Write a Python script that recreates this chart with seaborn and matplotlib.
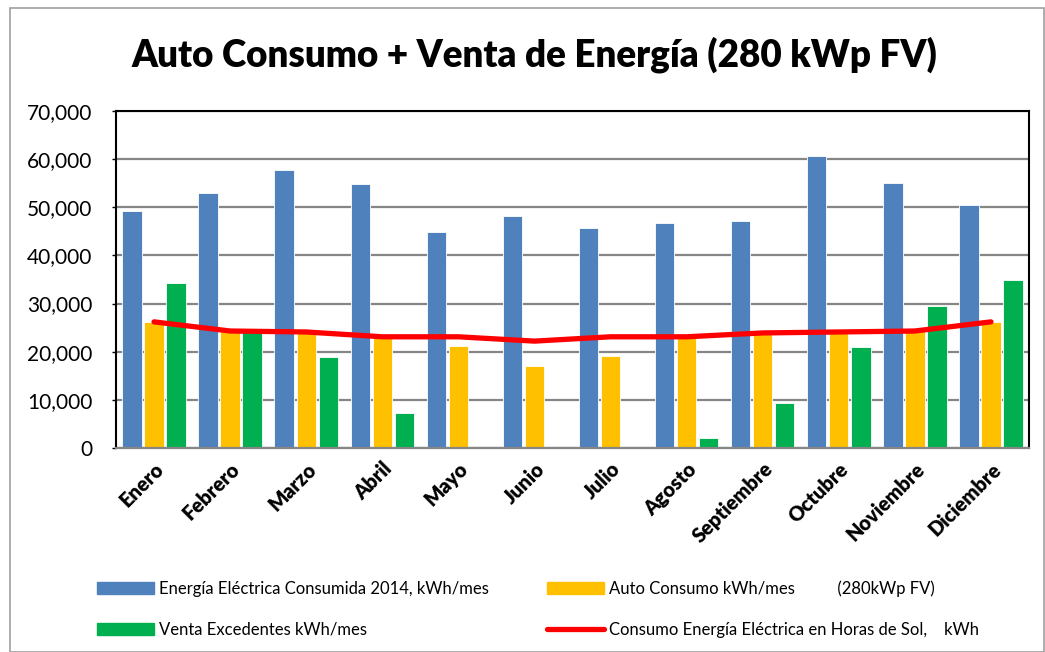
import matplotlib
matplotlib.use("Agg")
import matplotlib.pyplot as plt
import matplotlib.ticker as mticker
from matplotlib.patches import Rectangle, Patch
from matplotlib.lines import Line2D
import seaborn as sns
import pandas as pd

months = ["Enero", "Febrero", "Marzo", "Abril", "Mayo", "Junio", "Julio",
          "Agosto", "Septiembre", "Octubre", "Noviembre", "Diciembre"]
consumida = [49300, 52900, 57700, 54900, 44800, 48200, 45800, 46800, 47100, 60600, 55000, 50400]
auto_consumo = [26200, 24300, 24100, 23100, 21100, 17000, 19100, 23100, 23900, 24100, 24300, 26200]
venta = [34300, 24200, 18800, 7200, 0, 0, 0, 2000, 9400, 21000, 29400, 35000]
horas_sol = [26200, 24300, 24100, 23100, 23100, 22200, 23100, 23100, 23900, 24100, 24300, 26200]

lab_cons = "Energía Eléctrica Consumida 2014, kWh/mes"
lab_auto = "Auto Consumo kWh/mes          (280kWp FV)"
lab_venta = "Venta Excedentes kWh/mes"
lab_sol = "Consumo Energía Eléctrica en Horas de Sol,    kWh"

df = pd.DataFrame({
    "Mes": months * 3,
    "Serie": [lab_cons] * 12 + [lab_auto] * 12 + [lab_venta] * 12,
    "Valor": consumida + auto_consumo + venta,
})
df_line = pd.DataFrame({"Mes": months, "Valor": horas_sol})

sns.set_theme(style="white")
plt.rcParams["font.family"] = ["Lato", "DejaVu Sans"]
plt.rcParams["text.color"] = "black"
plt.rcParams["xtick.color"] = "black"
plt.rcParams["ytick.color"] = "black"
plt.rcParams["xtick.labelcolor"] = "black"
plt.rcParams["ytick.labelcolor"] = "black"

colors = {lab_cons: "#4F81BD", lab_auto: "#FFC000", lab_venta: "#00B050"}

fig = plt.figure(figsize=(10.45, 6.52), dpi=100)
ax = fig.add_axes([116 / 1045, 1 - 448 / 652, (1029 - 116) / 1045, (448 - 111) / 652])

sns.barplot(data=df, x="Mes", y="Valor", hue="Serie", palette=colors, ax=ax,
            width=0.87, gap=0.12, edgecolor="white", linewidth=0.6,
            saturation=1, legend=False)
sns.lineplot(data=df_line, x="Mes", y="Valor", ax=ax, color="#FF0000",
             linewidth=3.8, sort=False, legend=False)

ax.set_ylim(0, 70000)
ax.set_xlim(-0.5, 11.5)
ax.yaxis.set_major_locator(mticker.MultipleLocator(10000))
ax.yaxis.set_major_formatter(mticker.FuncFormatter(lambda v, p: f"{int(v):,}"))
ax.grid(axis="y", color="#868686", linewidth=1.6)
ax.set_axisbelow(True)
ax.set_xlabel("")
ax.set_ylabel("")
for s in ["top", "right", "left"]:
    ax.spines[s].set_color("black")
    ax.spines[s].set_linewidth(1.5)
ax.spines["bottom"].set_color("#868686")
ax.spines["bottom"].set_linewidth(1.6)
ax.tick_params(axis="y", labelsize=15, length=3, width=1, direction="out",
               left=True, pad=14, colors="black")
ax.tick_params(axis="x", length=0, pad=8, colors="black")
ax.set_xticks(range(len(months)))
ax.set_xticklabels(months, rotation=45, ha="right", rotation_mode="anchor",
                   fontsize=14.5, fontweight="heavy", color="black")

fig.text(0.511, 0.916, "Auto Consumo + Venta de Energía (280 kWp FV)",
         ha="center", va="center", fontsize=26.5, fontweight="heavy", color="black")

handles = [Patch(color=colors[lab_cons]), Patch(color=colors[lab_venta]),
           Patch(color=colors[lab_auto]),
           Line2D([0], [0], color="#FF0000", linewidth=3.8)]
labels = [lab_cons, lab_venta, lab_auto, lab_sol]
fig.legend(handles, labels, ncol=2, loc="center", bbox_to_anchor=(0.515, 0.066),
           frameon=False, fontsize=12, handlelength=3.4, handletextpad=0.3,
           labelspacing=1.5, columnspacing=3.5, labelcolor="black")

fig.patches.append(Rectangle((10 / 1045, 0), 1 - 10 / 1045 - 0.001, 1 - 8 / 652,
                             transform=fig.transFigure, fill=False,
                             edgecolor="#A0A0A0", linewidth=1.2))

fig.savefig("out.png", dpi=100)
